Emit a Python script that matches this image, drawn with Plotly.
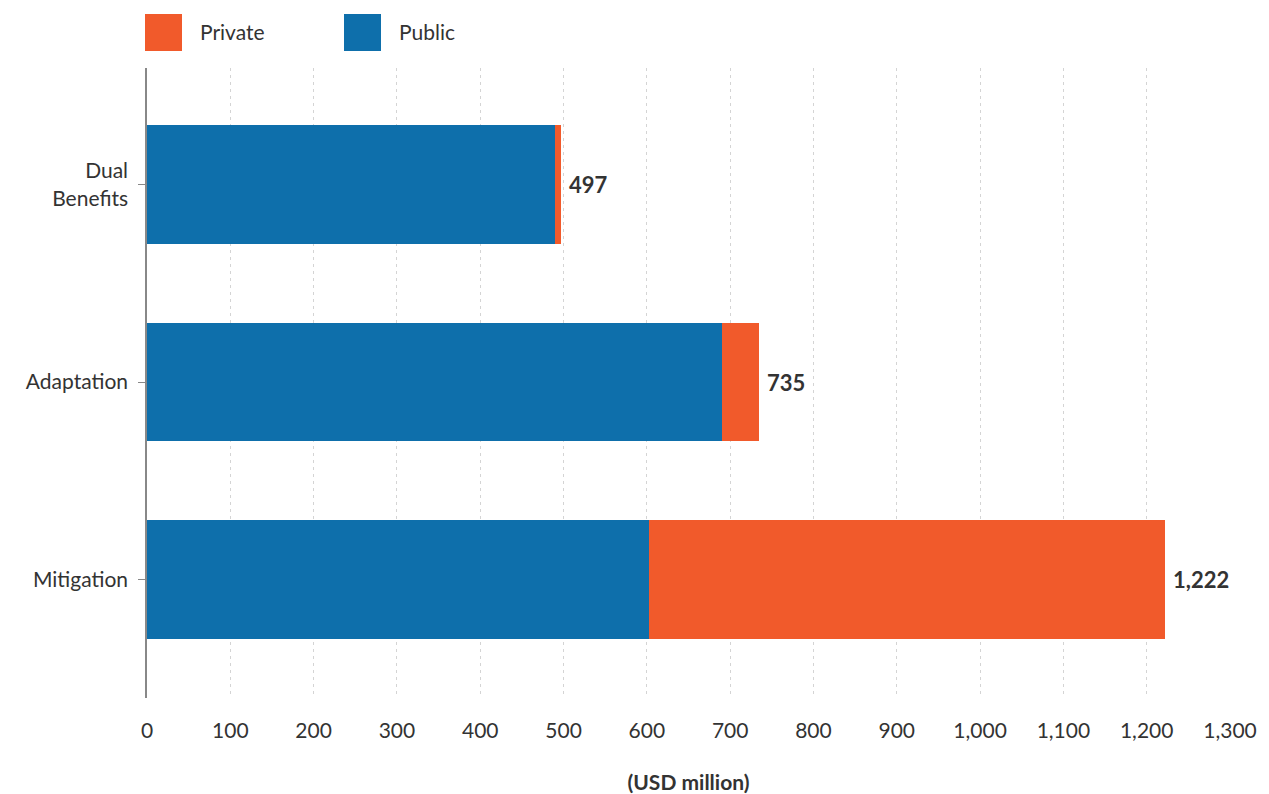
import plotly.graph_objects as go

categories = ["Mitigation", "Adaptation", "Dual<br>Benefits"]
public = [603, 690, 490]
private = [619, 45, 7]
totals = [1222, 735, 497]
total_labels = ["1,222", "735", "497"]
x_ticks = list(range(0, 1301, 100))
x_tick_labels = [f"{v:,}" for v in x_ticks]

BLUE = "#0e6fab"
ORANGE = "#f15a2b"
FONT = "Lato"
TXT = "#333333"

fig = go.Figure()
fig.add_trace(go.Bar(y=categories, x=public, name="Public", orientation="h",
                     marker=dict(color=BLUE, line=dict(width=0)), width=0.6))
fig.add_trace(go.Bar(y=categories, x=private, name="Private", orientation="h",
                     marker=dict(color=ORANGE, line=dict(width=0)), width=0.6))

for c, t, lab in zip(categories, totals, total_labels):
    fig.add_annotation(x=t, y=c, text=f"<b>{lab}</b>", showarrow=False,
                       xanchor="left", xshift=6, font=dict(family=FONT, size=22, color=TXT))

# legend drawn manually (large square swatches)
legend_items = [("Private", ORANGE, 145), ("Public", BLUE, 344)]
for name, col, x0 in legend_items:
    fig.add_shape(type="rect", xref="paper", yref="paper",
                  x0=(x0 - 147) / 1083, x1=(x0 + 37 - 147) / 1083,
                  y0=(794 - 96 - 51) / 630, y1=(794 - 96 - 14) / 630,
                  fillcolor=col, line=dict(width=0))
    fig.add_annotation(xref="paper", yref="paper", x=(x0 + 53 - 147) / 1083,
                       y=(794 - 96 - 32) / 630, text=name, showarrow=False,
                       xanchor="left", yanchor="middle",
                       font=dict(family=FONT, size=21, color=TXT))

fig.update_layout(
    barmode="stack",
    width=1269, height=794,
    margin=dict(l=147, r=39, t=68, b=96),
    plot_bgcolor="white", paper_bgcolor="white",
    showlegend=False,
    font=dict(family=FONT, size=21, color=TXT),
    xaxis=dict(range=[0, 1300], tickvals=x_ticks, ticktext=x_tick_labels,
               showgrid=True, gridcolor="#d4d4d4", griddash="3px,4px", gridwidth=1,
               zeroline=False, showline=False, ticks="", automargin=False,
               tickfont=dict(family=FONT, size=21, color=TXT),
               ticklabelstandoff=18,
               title=dict(text="<b>(USD million)</b>", font=dict(family=FONT, size=21, color=TXT), standoff=34)),
    yaxis=dict(range=[-0.6, 2.59], showgrid=False, zeroline=False, automargin=False,
               showline=True, linecolor="#888888", linewidth=1.5,
               ticks="outside", ticklen=7, tickcolor="#888888",
               tickfont=dict(family=FONT, size=21, color=TXT),
               ticklabelstandoff=6),
)

fig.write_html("out.html")
